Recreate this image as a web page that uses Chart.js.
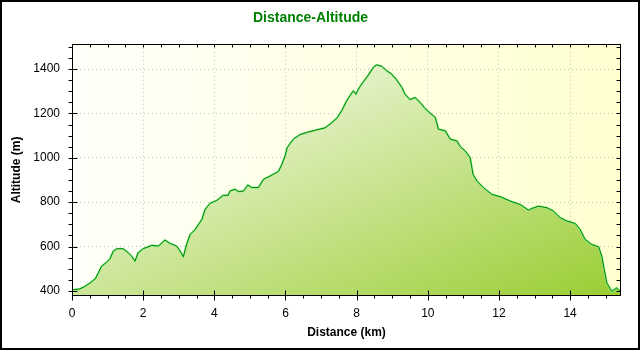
<!DOCTYPE html>
<html>
<head>
<meta charset="utf-8">
<title>Distance-Altitude</title>
<script src="https://cdn.jsdelivr.net/npm/chart.js@4/dist/chart.umd.min.js"></script>
<style>
  html, body { margin: 0; padding: 0; background: #ffffff; }
  #wrap { width: 640px; height: 350px; position: relative; }
</style>
</head>
<body>
<div id="wrap"><canvas id="profile"></canvas></div>
<script>
// Track profile: cumulative distance (km) and altitude (m)
const distanceKm = [
  0, 0.08, 0.22, 0.37, 0.51, 0.65, 0.74, 0.83, 0.97, 1.07,
  1.16, 1.26, 1.44, 1.58, 1.68, 1.77, 1.86, 2.00, 2.24, 2.43,
  2.61, 2.76, 2.94, 3.04, 3.13, 3.22, 3.32, 3.46, 3.65, 3.74,
  3.88, 4.07, 4.25, 4.39, 4.44, 4.58, 4.68, 4.82, 4.94, 5.05,
  5.24, 5.38, 5.57, 5.80, 5.90, 5.99, 6.05, 6.22, 6.41, 6.62,
  6.83, 7.11, 7.25, 7.44, 7.58, 7.72, 7.84, 7.91, 7.98, 8.08,
  8.19, 8.33, 8.47, 8.56, 8.70, 8.84, 8.98, 9.12, 9.27, 9.36,
  9.50, 9.64, 9.78, 9.92, 10.06, 10.21, 10.30, 10.49, 10.63, 10.82,
  10.91, 11.05, 11.19, 11.27, 11.38, 11.56, 11.80, 12.03, 12.31, 12.59,
  12.83, 12.92, 13.11, 13.35, 13.53, 13.72, 13.91, 14.14, 14.28, 14.42,
  14.61, 14.80, 14.89, 14.96, 15.03, 15.17, 15.31, 15.43
];
const altitudeM = [
  405, 406, 409, 421, 436, 454, 481, 511, 529, 545,
  579, 590, 590, 572, 556, 534, 572, 590, 605, 602,
  629, 614, 602, 579, 554, 609, 654, 677, 722, 767,
  795, 808, 831, 831, 850, 858, 848, 850, 877, 866,
  866, 903, 918, 938, 971, 1009, 1047, 1084, 1105, 1115,
  1124, 1135, 1152, 1178, 1212, 1257, 1287, 1302, 1287, 1318,
  1343, 1373, 1408, 1419, 1413, 1393, 1378, 1352, 1318, 1287,
  1262, 1272, 1250, 1223, 1202, 1182, 1129, 1122, 1084, 1076,
  1051, 1031, 1001, 926, 895, 866, 835, 825, 805, 790,
  764, 771, 782, 775, 760, 730, 715, 704, 677, 632,
  609, 599, 556, 496, 436, 398, 413, 394
];

// Labelled (major) ticks; minor ticks fall every 0.5 km and every 50 m
const xMajorTicks = [0, 2, 4, 6, 8, 10, 12, 14];
const yMajorTicks = [400, 600, 800, 1000, 1200, 1400];

const points = distanceKm.map((d, i) => ({ x: d, y: altitudeM[i] }));

const FONT = "'Liberation Sans', Arial, sans-serif";

// Diagonal gradient whose iso-lines run parallel to the box's anti-diagonal
function diagonalGradient(ctx, x0, y0, w, h, c0, c1) {
  const k = 2 / (1 / (w * w) + 1 / (h * h));
  const g = ctx.createLinearGradient(x0, y0, x0 + k / w, y0 + k / h);
  g.addColorStop(0, c0);
  g.addColorStop(1, c1);
  return g;
}

function areaFill(context) {
  const chart = context.chart;
  const area = chart.chartArea;
  if (!area) return '#cfe6a6';
  const yScale = chart.scales.y;
  const top = yScale.getPixelForValue(Math.max(...altitudeM));
  return diagonalGradient(chart.ctx, area.left, top,
    area.right - area.left, area.bottom - top, '#ffffff', '#9acd32');
}

const isMajor = (list, v) => list.some(m => Math.abs(m - v) < 1e-6);

// Plot background, frame, tick marks and outer border
const framePlugin = {
  id: 'frame',
  beforeDraw(chart) {
    const { ctx, chartArea: a } = chart;
    ctx.save();
    ctx.fillStyle = '#ffffff';
    ctx.fillRect(0, 0, chart.width, chart.height);
    const g = ctx.createLinearGradient(a.left, a.top, a.right, a.top);
    g.addColorStop(0, '#fffffa');
    g.addColorStop(1, '#ffffd0');
    ctx.fillStyle = g;
    ctx.fillRect(a.left, a.top, a.right - a.left, a.bottom - a.top);
    ctx.restore();
  },
  afterDraw(chart) {
    const { ctx, chartArea: a, scales } = chart;
    const L = Math.round(a.left) + 0.5, R = Math.round(a.right) - 0.5;
    const T = Math.round(a.top) + 0.5, B = Math.round(a.bottom) - 0.5;
    ctx.save();
    ctx.strokeStyle = '#000000';
    ctx.lineWidth = 1;
    ctx.strokeRect(L, T, R - L, B - T);
    ctx.beginPath();
    scales.x.ticks.forEach(t => {
      const px = Math.round(scales.x.getPixelForValue(t.value)) + 0.5;
      if (isMajor(xMajorTicks, t.value)) {
        ctx.moveTo(px, B - 5); ctx.lineTo(px, B + 5);
      } else {
        ctx.moveTo(px, B); ctx.lineTo(px, B + 3);
      }
      ctx.moveTo(px, T); ctx.lineTo(px, T + 3);
    });
    scales.y.ticks.forEach(t => {
      const py = Math.round(scales.y.getPixelForValue(t.value)) + 0.5;
      if (isMajor(yMajorTicks, t.value)) {
        ctx.moveTo(L - 4, py); ctx.lineTo(L + 5, py);
      } else {
        ctx.moveTo(L - 4, py); ctx.lineTo(L, py);
      }
      ctx.moveTo(R - 4, py); ctx.lineTo(R, py);
    });
    ctx.stroke();
    ctx.lineWidth = 2;
    ctx.strokeRect(1, 1, chart.width - 2, chart.height - 2);
    ctx.restore();
  }
};

new Chart(document.getElementById('profile'), {
  type: 'line',
  data: {
    datasets: [
      {
        label: 'Altitude',
        data: points,
        borderColor: '#008000',
        borderWidth: 1,
        pointRadius: 0,
        tension: 0,
        fill: false
      },
      {
        label: 'Altitude area',
        data: points,
        borderColor: '#90ee90',
        borderWidth: 2.2,
        pointRadius: 0,
        tension: 0,
        fill: 'start',
        backgroundColor: areaFill
      }
    ]
  },
  options: {
    responsive: true,
    maintainAspectRatio: false,
    animation: false,
    events: [],
    layout: { padding: { left: 0, right: 19, top: 0, bottom: 0 } },
    plugins: {
      legend: { display: false },
      tooltip: { enabled: false },
      title: {
        display: true,
        text: 'Distance-Altitude',
        color: '#008000',
        font: { family: FONT, size: 14, weight: 'bold' },
        padding: { top: 10, bottom: 17 }
      }
    },
    scales: {
      x: {
        type: 'linear',
        min: 0,
        max: 15.43,
        afterFit(scale) { scale.height = 54; },
        grid: {
          drawTicks: false,
          color: c => (c.tick && isMajor(xMajorTicks, c.tick.value)) ? '#c4c4c4' : 'rgba(0,0,0,0)'
        },
        border: { display: false, dash: [1, 3] },
        ticks: {
          stepSize: 0.5,
          includeBounds: false,
          autoSkip: false,
          maxRotation: 0,
          padding: 10,
          color: '#000000',
          font: { family: FONT, size: 12 },
          callback: v => isMajor(xMajorTicks, v) ? String(Math.round(v)) : ''
        },
        title: {
          display: true,
          text: 'Distance (km)',
          color: '#000000',
          font: { family: FONT, size: 12, weight: 'bold' },
          padding: { top: 10, bottom: 10 }
        }
      },
      y: {
        type: 'linear',
        min: 377,
        max: 1514,
        afterFit(scale) { scale.width = 72; },
        grid: {
          drawTicks: false,
          color: c => (c.tick && isMajor(yMajorTicks, c.tick.value)) ? '#c4c4c4' : 'rgba(0,0,0,0)'
        },
        border: { display: false, dash: [1, 3] },
        ticks: {
          stepSize: 50,
          includeBounds: false,
          autoSkip: false,
          padding: 12,
          color: '#000000',
          font: { family: FONT, size: 12 },
          callback: v => isMajor(yMajorTicks, v) ? String(v) : ''
        },
        title: {
          display: true,
          text: 'Altitude (m)',
          color: '#000000',
          font: { family: FONT, size: 12, weight: 'bold' },
          padding: { top: 9, bottom: 9 }
        }
      }
    }
  },
  plugins: [framePlugin]
});
</script>
</body>
</html>
